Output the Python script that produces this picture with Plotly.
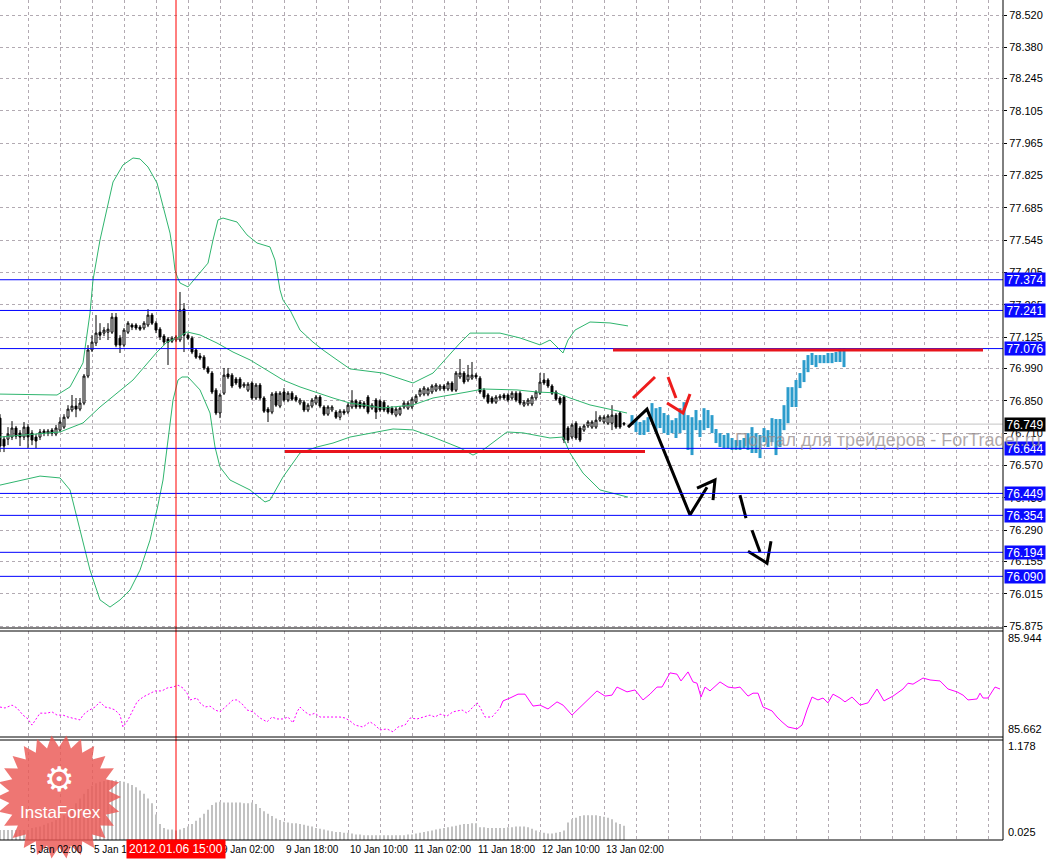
import math
import plotly.graph_objects as go

# ---------------- data ----------------
# hourly bars, bar index 0 = 4 Jan 19:00
opens = [76.775, 76.684, 76.684, 76.693, 76.732, 76.710, 76.693, 76.736, 76.710, 76.693,
         76.693, 76.719, 76.710, 76.723, 76.706, 76.723, 76.736, 76.779, 76.810, 76.827,
         76.814, 76.840, 76.957, 77.070, 77.100, 77.147, 77.143, 77.147, 77.147, 77.212,
         77.121, 77.091, 77.147, 77.178, 77.178, 77.169, 77.165, 77.178, 77.221, 77.186,
         77.160, 77.130, 77.117, 77.108, 77.113, 77.113, 77.247, 77.134, 77.121, 77.070,
         77.044, 77.039, 76.992, 76.970, 76.896, 76.797, 76.883, 76.966, 76.961, 76.944,
         76.944, 76.914, 76.896, 76.927, 76.862, 76.918, 76.862, 76.814, 76.801, 76.883,
         76.827, 76.888, 76.853, 76.883, 76.866, 76.840, 76.844, 76.810, 76.827, 76.840,
         76.866, 76.823, 76.792, 76.810, 76.801, 76.779, 76.805, 76.801, 76.823, 76.849,
         76.844, 76.840, 76.866, 76.818, 76.853, 76.849, 76.844, 76.823, 76.818, 76.788,
         76.792, 76.823, 76.818, 76.823, 76.844, 76.875, 76.879, 76.879, 76.888, 76.896,
         76.901, 76.914, 76.901, 76.927, 76.896, 76.953, 76.970, 76.940, 76.948, 76.961,
         76.948, 76.896, 76.875, 76.862, 76.844, 76.862, 76.875, 76.875, 76.862, 76.883,
         76.883, 76.831, 76.836, 76.836, 76.862, 76.883, 76.940, 76.940, 76.914, 76.888,
         76.862, 76.866, 76.732, 76.693, 76.753, 76.732, 76.723, 76.741, 76.736, 76.736,
         76.766, 76.758, 76.753, 76.753, 76.788, 76.797, 76.753]
highs = [76.792, 76.697, 76.736, 76.762, 76.741, 76.723, 76.758, 76.749, 76.723, 76.706,
         76.728, 76.728, 76.728, 76.732, 76.745, 76.779, 76.792, 76.831, 76.875, 76.862,
         76.862, 76.966, 77.091, 77.134, 77.221, 77.186, 77.169, 77.186, 77.230, 77.230,
         77.134, 77.165, 77.195, 77.186, 77.186, 77.178, 77.195, 77.247, 77.230, 77.195,
         77.169, 77.139, 77.126, 77.130, 77.134, 77.321, 77.273, 77.143, 77.130, 77.078,
         77.057, 77.048, 77.000, 76.979, 76.905, 76.883, 76.992, 76.992, 76.970, 76.953,
         76.953, 76.931, 76.931, 76.935, 76.927, 76.927, 76.870, 76.823, 76.888, 76.892,
         76.892, 76.905, 76.892, 76.892, 76.875, 76.862, 76.853, 76.840, 76.862, 76.875,
         76.875, 76.831, 76.831, 76.831, 76.810, 76.814, 76.814, 76.840, 76.896, 76.857,
         76.853, 76.849, 76.875, 76.840, 76.862, 76.857, 76.853, 76.831, 76.827, 76.823,
         76.827, 76.849, 76.849, 76.866, 76.879, 76.905, 76.914, 76.909, 76.922, 76.927,
         76.922, 76.922, 76.935, 76.935, 76.979, 77.031, 76.979, 77.005, 77.018, 76.970,
         76.957, 76.905, 76.883, 76.870, 76.875, 76.879, 76.883, 76.883, 76.892, 76.892,
         76.892, 76.853, 76.862, 76.875, 76.896, 76.970, 76.970, 76.948, 76.922, 76.896,
         76.870, 76.875, 76.741, 76.753, 76.762, 76.741, 76.749, 76.766, 76.766, 76.805,
         76.788, 76.788, 76.792, 76.831, 76.797, 76.805, 76.758]
lows = [76.628, 76.628, 76.658, 76.680, 76.684, 76.654, 76.680, 76.645, 76.658, 76.645,
        76.680, 76.697, 76.697, 76.697, 76.697, 76.715, 76.728, 76.771, 76.801, 76.779,
        76.805, 76.831, 76.948, 77.061, 77.087, 77.113, 77.130, 77.113, 77.139, 77.082,
        77.057, 77.082, 77.139, 77.156, 77.156, 77.152, 77.156, 77.169, 77.178, 77.143,
        77.113, 77.091, 77.005, 77.100, 77.104, 77.104, 77.061, 77.113, 77.052, 77.031,
        77.026, 76.983, 76.966, 76.879, 76.788, 76.775, 76.875, 76.944, 76.905, 76.918,
        76.901, 76.905, 76.888, 76.853, 76.853, 76.853, 76.797, 76.758, 76.792, 76.823,
        76.818, 76.844, 76.844, 76.849, 76.844, 76.831, 76.801, 76.801, 76.818, 76.831,
        76.818, 76.784, 76.784, 76.801, 76.771, 76.766, 76.788, 76.792, 76.814, 76.814,
        76.814, 76.814, 76.792, 76.810, 76.771, 76.801, 76.801, 76.792, 76.788, 76.779,
        76.784, 76.814, 76.810, 76.814, 76.836, 76.866, 76.870, 76.870, 76.879, 76.888,
        76.892, 76.892, 76.892, 76.888, 76.888, 76.944, 76.922, 76.931, 76.940, 76.944,
        76.879, 76.857, 76.836, 76.836, 76.836, 76.853, 76.853, 76.844, 76.853, 76.844,
        76.831, 76.823, 76.827, 76.827, 76.853, 76.875, 76.918, 76.905, 76.875, 76.849,
        76.831, 76.667, 76.667, 76.684, 76.680, 76.671, 76.715, 76.732, 76.728, 76.728,
        76.758, 76.749, 76.745, 76.723, 76.728, 76.728, 76.741]
closes = [76.654, 76.654, 76.706, 76.732, 76.697, 76.693, 76.736, 76.693, 76.680, 76.676,
          76.715, 76.710, 76.719, 76.710, 76.732, 76.758, 76.779, 76.814, 76.827, 76.814,
          76.840, 76.957, 77.070, 77.104, 77.143, 77.134, 77.156, 77.160, 77.212, 77.091,
          77.091, 77.156, 77.186, 77.169, 77.165, 77.160, 77.186, 77.221, 77.186, 77.156,
          77.126, 77.104, 77.104, 77.121, 77.126, 77.243, 77.134, 77.121, 77.061, 77.039,
          77.035, 76.992, 76.974, 76.888, 76.797, 76.875, 76.961, 76.953, 76.914, 76.927,
          76.909, 76.922, 76.922, 76.862, 76.918, 76.862, 76.805, 76.801, 76.879, 76.831,
          76.883, 76.853, 76.883, 76.857, 76.853, 76.853, 76.810, 76.831, 76.853, 76.866,
          76.827, 76.792, 76.823, 76.823, 76.779, 76.805, 76.797, 76.831, 76.849, 76.823,
          76.823, 76.823, 76.801, 76.831, 76.801, 76.810, 76.810, 76.801, 76.797, 76.814,
          76.818, 76.840, 76.840, 76.857, 76.870, 76.896, 76.905, 76.901, 76.914, 76.918,
          76.914, 76.901, 76.927, 76.896, 76.970, 76.970, 76.931, 76.961, 76.961, 76.953,
          76.888, 76.866, 76.844, 76.844, 76.866, 76.870, 76.862, 76.853, 76.883, 76.853,
          76.840, 76.844, 76.853, 76.866, 76.888, 76.931, 76.927, 76.914, 76.883, 76.857,
          76.840, 76.680, 76.680, 76.745, 76.689, 76.680, 76.741, 76.758, 76.758, 76.766,
          76.779, 76.779, 76.784, 76.788, 76.736, 76.736, 76.749]
bar_idx = list(range(len(closes)))

# Bollinger bands (bar index, price)
bb_up_idx = [0, 14.25, 17.5, 20.75, 22.5, 23.25, 25, 26.75, 28.25, 30.75, 33.25, 35, 37, 39.25, 40.75,
             42.5, 43.25, 43.75, 44.25, 45, 47, 50, 52, 53.25, 54.5, 55.75, 59.25, 61.75, 64.25,
             67.5, 68.75, 70, 70.75, 72.5, 75, 78.25, 80.75, 84.25, 87.5, 95.75, 103.25, 108.25,
             115, 117.5, 125, 130, 135, 137.5, 140.75, 142, 143.75, 147.5, 152.5, 157]
bb_up = [76.879, 76.875, 76.910, 77.014, 77.230, 77.373, 77.546, 77.689, 77.797, 77.871, 77.901,
         77.897, 77.862, 77.793, 77.689, 77.576, 77.490, 77.416, 77.390, 77.360, 77.343, 77.403,
         77.446, 77.546, 77.633, 77.641, 77.624, 77.568, 77.533, 77.516, 77.459, 77.330, 77.286,
         77.243, 77.156, 77.104, 77.070, 77.027, 76.988, 76.970, 76.927, 76.970, 77.100, 77.143,
         77.143, 77.122, 77.092, 77.113, 77.057, 77.113, 77.156, 77.191, 77.187, 77.174]
bb_mid_idx = [0, 15, 20.75, 25, 33.25, 39.25, 41.75, 44.25, 46.75, 50, 54.25, 58.25, 62.5, 66.75,
              70.75, 75, 79.25, 83.25, 87.5, 95.75, 103.25, 108.25, 116.75, 120.75, 129.25, 134.25,
              139.25, 142.5, 147.5, 156.75]
bb_mid = [76.693, 76.715, 76.754, 76.823, 76.940, 77.061, 77.104, 77.122, 77.148, 77.135, 77.100,
          77.061, 77.027, 76.983, 76.940, 76.910, 76.884, 76.862, 76.840, 76.819, 76.832, 76.862,
          76.888, 76.901, 76.897, 76.888, 76.884, 76.862, 76.832, 76.797]
bb_lo_idx = [0, 10, 15, 17.5, 20, 22.5, 25, 27.5, 30, 32.5, 35, 37.5, 39.5, 40.75, 42, 43.25, 44.5,
             45.5, 47, 50, 52.5, 53.75, 55, 57.5, 62.5, 66.25, 67.5, 70.75, 75, 79.25, 83.25, 87.5,
             98.25, 103.25, 108.25, 115, 118.25, 120.75, 126.75, 130.75, 137.5, 140.75, 142.5,
             145.75, 150, 157]
bb_lo = [76.485, 76.524, 76.516, 76.464, 76.291, 76.117, 75.988, 75.957, 75.988, 76.031, 76.117,
         76.247, 76.399, 76.507, 76.680, 76.853, 76.940, 76.953, 76.953, 76.897, 76.797, 76.650,
         76.563, 76.507, 76.464, 76.412, 76.420, 76.520, 76.624, 76.650, 76.667, 76.693, 76.728,
         76.724, 76.693, 76.646, 76.615, 76.637, 76.715, 76.711, 76.689, 76.693, 76.624, 76.537,
         76.464, 76.433]

# projected bars (future)
proj_idx = list(range(158, 212))
proj_hi = [76.788, 76.771, 76.758, 76.766, 76.779, 76.840, 76.818, 76.823, 76.797, 76.788,
           76.766, 76.775, 76.818, 76.844, 76.788, 76.779, 76.810, 76.766, 76.818, 76.810,
           76.788, 76.728, 76.710, 76.702, 76.710, 76.689, 76.680, 76.680, 76.689, 76.710,
           76.736, 76.710, 76.702, 76.732, 76.723, 76.775, 76.771, 76.771, 76.831, 76.909,
           76.909, 76.940, 76.970, 77.026, 77.048, 77.057, 77.048, 77.048, 77.048, 77.057,
           77.057, 77.061, 77.078, 77.078]
proj_lo = [76.745, 76.715, 76.702, 76.702, 76.715, 76.758, 76.715, 76.732, 76.710, 76.702,
           76.710, 76.689, 76.710, 76.723, 76.637, 76.615, 76.723, 76.693, 76.723, 76.732,
           76.710, 76.667, 76.650, 76.645, 76.645, 76.637, 76.637, 76.637, 76.645, 76.637,
           76.624, 76.624, 76.602, 76.671, 76.650, 76.671, 76.615, 76.650, 76.723, 76.753,
           76.823, 76.823, 76.905, 76.931, 76.974, 77.005, 76.996, 77.013, 77.013, 77.013,
           77.013, 77.018, 77.018, 76.996]

# horizontal levels
blue_levels = [77.374, 77.241, 77.076, 76.644, 76.449, 76.354, 76.194, 76.090]
current_price = 76.749
price_ticks = [78.520, 78.380, 78.245, 78.105, 77.965, 77.825, 77.685, 77.545, 77.405, 77.265,
               77.125, 76.990, 76.850, 76.710, 76.570, 76.430, 76.290, 76.155, 76.015, 75.875]

# hand-drawn marks (bar index, price)
red_hlines = [(153.25, 245.75, 77.070), (71.25, 161.25, 76.630)]
red_strokes = [([158.25, 163.75], [76.862, 76.953]),
               ([167.0, 169.0], [76.953, 76.862]),
               ([166.75, 170.75, 172.5], [76.840, 76.797, 76.879])]
black_strokes = [([157.0, 161.75, 172.5, 176.75], [76.736, 76.814, 76.356, 76.476]),
                 ([174.25, 178.75, 178.25], [76.472, 76.507, 76.420]),
                 ([185.0, 186.5], [76.442, 76.342]),
                 ([188.0, 190.0], [76.290, 76.195]),
                 ([187.0, 191.75, 192.75], [76.199, 76.147, 76.242])]

# oscillator sub-window
osc_idx_a = [0, 1.25, 3, 4.25, 5.75, 7, 8, 9.25, 10, 11.75, 13, 14.25, 15.75, 17, 18.25, 20, 20.75,
             22, 23.75, 25, 26.25, 27.5, 28.75, 30, 30.75, 32, 33.25, 34.25, 35.75, 37.5, 38.75,
             40.5, 41.75, 43.25, 44.5, 45.75, 46.75, 47.5, 49.25, 50, 51.25, 52.5, 53.75, 55,
             56.75, 58.25, 59.25, 60.5, 61.75, 63.25, 65, 66.75, 68, 69.25, 70.75, 72, 73.25,
             74.25, 75, 76.25, 77.5, 78.75, 80, 83.25, 85, 86.25, 87.5, 88.75, 90.75, 92.5, 93.75,
             95, 96.75, 98.25, 99.5, 101.25, 102.5, 104.25, 105.75, 107.5, 108.75, 110, 111.75,
             113.25, 115.5, 116.75, 118.25, 119.25, 120, 121.25, 123, 125]
osc_a = [85.730, 85.727, 85.736, 85.727, 85.705, 85.693, 85.674, 85.696, 85.711, 85.711, 85.715,
         85.705, 85.705, 85.699, 85.696, 85.690, 85.705, 85.718, 85.730, 85.746, 85.730, 85.727,
         85.721, 85.705, 85.668, 85.690, 85.721, 85.746, 85.761, 85.773, 85.780, 85.780, 85.789,
         85.792, 85.798, 85.789, 85.773, 85.752, 85.758, 85.743, 85.730, 85.733, 85.721, 85.715,
         85.736, 85.752, 85.752, 85.740, 85.721, 85.715, 85.696, 85.684, 85.699, 85.693, 85.693,
         85.699, 85.681, 85.715, 85.730, 85.715, 85.705, 85.711, 85.699, 85.699, 85.699, 85.696,
         85.687, 85.674, 85.668, 85.684, 85.674, 85.659, 85.662, 85.653, 85.668, 85.674, 85.696,
         85.693, 85.699, 85.705, 85.699, 85.708, 85.702, 85.715, 85.721, 85.711, 85.730, 85.743,
         85.730, 85.699, 85.699, 85.727]
osc_idx_b = [125, 125.75, 127.5, 129.5, 131.25, 133.25, 135, 137, 139.25, 140.75, 143, 145, 147.5,
             149.25, 151.25, 153, 154.25, 156.75, 158.75, 160.75, 162.5, 164.25, 165.5, 167.5,
             169.25, 170.25, 172, 173.25, 174.25, 175.25, 176.25, 177.5, 180, 182, 183.75, 185,
             187, 188.25, 189.5, 190.75, 193, 194.25, 195.5, 197, 199.25, 200.5, 201.75, 203,
             204.5, 205.75, 207, 208.25, 210, 211.25, 213, 215, 217, 219.25, 221, 223.25, 225.75,
             227, 228.25, 230.75, 232.5, 235, 237, 239.25, 240.75, 242, 244.25, 245, 245.75, 247,
             248.75, 250]
osc_b = [85.727, 85.749, 85.758, 85.770, 85.770, 85.733, 85.736, 85.724, 85.746, 85.736, 85.705,
         85.730, 85.758, 85.780, 85.764, 85.767, 85.792, 85.777, 85.783, 85.752, 85.770, 85.792,
         85.792, 85.836, 85.832, 85.811, 85.839, 85.808, 85.804, 85.761, 85.792, 85.780, 85.808,
         85.792, 85.789, 85.792, 85.764, 85.773, 85.773, 85.730, 85.718, 85.699, 85.684, 85.668,
         85.662, 85.674, 85.721, 85.761, 85.752, 85.758, 85.743, 85.770, 85.758, 85.746, 85.761,
         85.736, 85.743, 85.786, 85.749, 85.764, 85.786, 85.804, 85.801, 85.820, 85.814, 85.811,
         85.786, 85.777, 85.767, 85.752, 85.755, 85.773, 85.758, 85.758, 85.792, 85.786]

# histogram sub-window
hist_vals = [0.125, 0.125, 0.125, 0.125, 0.125, 0.125, 0.125, 0.125, 0.15, 0.16,
             0.17, 0.19, 0.21, 0.23, 0.25, 0.28, 0.31, 0.35, 0.40, 0.46,
             0.52, 0.58, 0.64, 0.68, 0.71, 0.73, 0.74, 0.75, 0.75, 0.75,
             0.74, 0.73, 0.71, 0.69, 0.66, 0.62, 0.58, 0.52, 0.46, 0.32,
             0.20, 0.15, 0.13, 0.13, 0.12, 0.13, 0.15, 0.17, 0.20, 0.24,
             0.28, 0.33, 0.38, 0.44, 0.47, 0.48, 0.47, 0.47, 0.47, 0.47,
             0.47, 0.46, 0.46, 0.47, 0.45, 0.40, 0.36, 0.33, 0.30, 0.27,
             0.25, 0.23, 0.22, 0.21, 0.21, 0.20, 0.19, 0.18, 0.17, 0.15,
             0.14, 0.13, 0.12, 0.11, 0.10, 0.10, 0.09, 0.09, 0.08, 0.07,
             0.07, 0.06, 0.06, 0.06, 0.06, 0.06, 0.06, 0.06, 0.06, 0.06,
             0.06, 0.06, 0.07, 0.07, 0.08, 0.09, 0.10, 0.11, 0.12, 0.13,
             0.14, 0.15, 0.16, 0.17, 0.18, 0.19, 0.20, 0.20, 0.21, 0.21,
             0.16, 0.16, 0.15, 0.15, 0.15, 0.15, 0.15, 0.16, 0.16, 0.17,
             0.17, 0.17, 0.16, 0.14, 0.12, 0.10, 0.09, 0.08, 0.08, 0.09,
             0.10, 0.12, 0.22, 0.26, 0.28, 0.30, 0.31, 0.31, 0.31, 0.31,
             0.30, 0.29, 0.28, 0.26, 0.22, 0.20, 0.18]

# time axis labels (bar index of label start)
time_label_idx = [-9, 7, 23, 39, 55, 71, 87, 103, 119, 135, 151]
time_labels = ["4 Jan 10:00", "5 Jan 02:00", "5 Jan 18:00", "6 Jan 10:00", "9 Jan 02:00",
               "9 Jan 18:00", "10 Jan 10:00", "11 Jan 02:00", "11 Jan 18:00", "12 Jan 10:00",
               "13 Jan 02:00"]
grid_idx = [7 + 8 * k for k in range(31)]
marker_idx = 44
marker_label = "2012.01.06 15:00"

# ---------------- layout helpers ----------------
W, H = 1047, 860
PR, PB = 1003, 840
FONT = "Liberation Sans"


def px(x):
    return x / PR


def py(y):
    return (PB - y) / PB


GRID = "#b2aab2"
fig = go.Figure()

# Bollinger bands
for xs, ys in [(bb_up_idx, bb_up), (bb_mid_idx, bb_mid), (bb_lo_idx, bb_lo)]:
    fig.add_trace(go.Scatter(x=xs, y=ys, mode="lines", line=dict(color="#2fb56e", width=1),
                             hoverinfo="skip", showlegend=False, xaxis="x", yaxis="y"))

# candles
fig.add_trace(go.Candlestick(
    x=bar_idx, open=opens, high=highs, low=lows, close=closes,
    increasing=dict(line=dict(color="black", width=1), fillcolor="white"),
    decreasing=dict(line=dict(color="black", width=1), fillcolor="black"),
    whiskerwidth=0, showlegend=False, xaxis="x", yaxis="y"))

# projection bars
fig.add_trace(go.Bar(x=proj_idx, y=[h - l for h, l in zip(proj_hi, proj_lo)], base=proj_lo,
                     width=0.75, marker=dict(color="#2c9ccc", line=dict(width=0)),
                     showlegend=False, xaxis="x", yaxis="y"))

# hand-drawn strokes
for xs, ys in red_strokes:
    fig.add_trace(go.Scatter(x=xs, y=ys, mode="lines", line=dict(color="#ee1c1c", width=3),
                             showlegend=False, xaxis="x", yaxis="y"))
for xs, ys in black_strokes:
    fig.add_trace(go.Scatter(x=xs, y=ys, mode="lines", line=dict(color="black", width=3),
                             showlegend=False, xaxis="x", yaxis="y"))

# oscillator
fig.add_trace(go.Scatter(x=osc_idx_a, y=osc_a, mode="lines",
                         line=dict(color="#ff00ff", width=1, dash="2px,2px"),
                         showlegend=False, xaxis="x2", yaxis="y2"))
fig.add_trace(go.Scatter(x=osc_idx_b, y=osc_b, mode="lines", line=dict(color="#ff00ff", width=1),
                         showlegend=False, xaxis="x2", yaxis="y2"))

# histogram
fig.add_trace(go.Bar(x=bar_idx, y=hist_vals, width=0.25, marker=dict(color="#c2c2c2", line=dict(width=0)),
                     showlegend=False, xaxis="x3", yaxis="y3"))

shapes = []
for lv in blue_levels:
    shapes.append(dict(type="line", xref="paper", yref="y", x0=0, x1=1, y0=lv, y1=lv,
                       line=dict(color="#0000ff", width=1)))
shapes.append(dict(type="line", xref="paper", yref="y", x0=0, x1=1, y0=current_price, y1=current_price,
                   line=dict(color="#c4c4c4", width=1), layer="below"))
for x0, x1, lv in red_hlines:
    shapes.append(dict(type="line", xref="x", yref="y", x0=x0, x1=x1, y0=lv, y1=lv,
                       line=dict(color="#e8141c", width=3)))
# vertical marker line
shapes.append(dict(type="line", xref="x", yref="paper", x0=marker_idx, x1=marker_idx, y0=0, y1=1,
                   line=dict(color="#ff0000", width=1)))
# panel borders
for yy in [628, 631, 737, 740, 840]:
    shapes.append(dict(type="line", xref="paper", yref="paper", x0=0, x1=1, y0=py(yy), y1=py(yy),
                       line=dict(color="black", width=1)))
shapes.append(dict(type="line", xref="paper", yref="paper", x0=1, x1=1, y0=0, y1=1,
                   line=dict(color="black", width=1)))

# InstaForex badge (decorative starburst)
cx, cy, ro, ri, n = 59, 797, 62, 50, 26
pts = []
for k in range(2 * n):
    r = ro if k % 2 == 0 else ri
    a = math.pi * k / n
    pts.append((px(cx + r * math.cos(a)), py(cy + r * math.sin(a))))
path = "M " + " L ".join(f"{x:.5f},{y:.5f}" for x, y in pts) + " Z"
shapes.append(dict(type="path", xref="paper", yref="paper", path=path,
                   fillcolor="rgba(234,88,84,0.82)", line=dict(width=0)))

annotations = []
# x labels
for i, t in zip(time_label_idx, time_labels):
    annotations.append(dict(x=i, xref="x", y=py(849), yref="paper", text=t, showarrow=False,
                            xanchor="left", yanchor="middle", font=dict(family=FONT, size=10, color="black")))
# level boxes
for lv in blue_levels:
    annotations.append(dict(x=1, xref="paper", xshift=1, y=lv, yref="y", text=f"{lv:.3f}", showarrow=False,
                            xanchor="left", yanchor="middle", bgcolor="#0a0aff", width=40, height=13,
                            borderpad=0, font=dict(family=FONT, size=12, color="white")))
annotations.append(dict(x=1, xref="paper", xshift=1, y=current_price, yref="y", text=f"{current_price:.3f}",
                        showarrow=False, xanchor="left", yanchor="middle", bgcolor="black", width=40,
                        height=13, borderpad=0, font=dict(family=FONT, size=12, color="white")))
# sub-window scale labels
for yy, t in [(638, "85.944"), (729, "85.662"), (746, "1.178"), (832, "0.025")]:
    annotations.append(dict(x=1, xref="paper", xshift=3, y=py(yy), yref="paper", text=t, showarrow=False,
                            xanchor="left", yanchor="middle", font=dict(family=FONT, size=11, color="black")))
# watermark
annotations.append(dict(x=px(733), xref="paper", y=py(440), yref="paper",
                        text="Портал для трейдеров - ForTrader.ru", showarrow=False,
                        xanchor="left", yanchor="middle",
                        font=dict(family=FONT, size=18, color="rgba(150,140,140,0.75)")))
# badge text
annotations.append(dict(x=px(59), xref="paper", y=py(779), yref="paper", text="⚙", showarrow=False,
                        xanchor="center", yanchor="middle",
                        font=dict(family="DejaVu Sans", size=34, color="white")))
annotations.append(dict(x=px(60), xref="paper", y=py(812), yref="paper", text="InstaForex", showarrow=False,
                        xanchor="center", yanchor="middle",
                        font=dict(family=FONT, size=17, color="white")))
# marker time box
annotations.append(dict(x=marker_idx, xref="x", y=py(849), yref="paper", text=marker_label, showarrow=False,
                        xanchor="center", yanchor="middle", bgcolor="#ff0000", borderpad=2,
                        font=dict(family=FONT, size=12, color="white")))

xcommon = dict(range=[0, PR / 4], showticklabels=False, tickvals=grid_idx, showgrid=True,
               griddash="3px,3px", gridcolor=GRID, gridwidth=1, zeroline=False, showline=False,
               ticks="", fixedrange=True)

fig.update_layout(
    template="none",
    width=W, height=H,
    margin=dict(l=0, r=W - PR, t=0, b=H - PB),
    paper_bgcolor="white", plot_bgcolor="white",
    showlegend=False, barmode="overlay",
    xaxis=dict(domain=[0, 1], anchor="y", rangeslider=dict(visible=False), **xcommon),
    xaxis2=dict(domain=[0, 1], anchor="y2", matches="x", **xcommon),
    xaxis3=dict(domain=[0, 1], anchor="y3", matches="x", **xcommon),
    yaxis=dict(domain=[py(628), 1], range=[78.585 - 628 * 0.004329, 78.585], side="right",
               tickvals=price_ticks, ticktext=[f"{v:.3f}" for v in price_ticks],
               tickfont=dict(family=FONT, size=11, color="black"), ticks="outside", ticklen=3,
               tickcolor="black", showgrid=True, griddash="3px,3px", gridcolor=GRID,
               zeroline=False, showline=False, automargin=False, fixedrange=True),
    yaxis2=dict(domain=[py(737), py(631)], range=[85.637, 85.966], side="right",
                showticklabels=False, showgrid=False, zeroline=False, ticks="", automargin=False),
    yaxis3=dict(domain=[0, py(740)], range=[0, 1.253], side="right",
                showticklabels=False, showgrid=False, zeroline=False, ticks="", automargin=False),
    shapes=shapes, annotations=annotations,
)

fig.write_html("out.html", config={"displayModeBar": False},
               post_script="document.body.style.margin='0px';document.body.style.overflow='hidden';")
